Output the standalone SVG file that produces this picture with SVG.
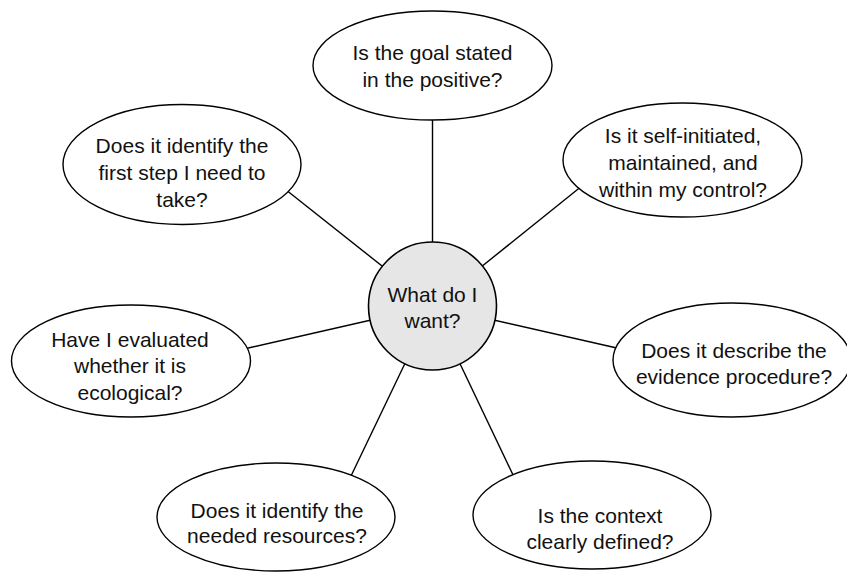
<svg xmlns="http://www.w3.org/2000/svg" width="847" height="572" viewBox="0 0 847 572">
<style>
.bg{fill:#ffffff}
.q{fill:#ffffff;stroke:#000000;stroke-width:1.4}
.hub{fill:#e6e6e6;stroke:#000000;stroke-width:1.6}
.c{stroke:#000000;stroke-width:1.4;fill:none}
text{font-family:"Liberation Sans",Arial,sans-serif;font-size:21px;fill:#111111;text-anchor:middle}
</style>
<rect class="bg" x="0" y="0" width="847" height="572"/>
<g id="connectors">
<line class="c" x1="432.5" y1="306" x2="432.5" y2="118"/>
<line class="c" x1="432.5" y1="306" x2="283" y2="187.5"/>
<line class="c" x1="432.5" y1="306" x2="580" y2="187.5"/>
<line class="c" x1="432.5" y1="306" x2="246" y2="348.5"/>
<line class="c" x1="432.5" y1="306" x2="619" y2="348.5"/>
<line class="c" x1="432.5" y1="306" x2="351" y2="476"/>
<line class="c" x1="432.5" y1="306" x2="514" y2="477"/>
</g>
<g id="top">
<ellipse class="q" cx="432.5" cy="65.5" rx="119.5" ry="54.5"/>
<text x="432.5" y="60">Is the goal stated</text>
<text x="432.5" y="87">in the positive?</text>
</g>
<g id="top-right">
<ellipse class="q" cx="682.5" cy="160" rx="119.5" ry="57"/>
<text x="683" y="143">Is it self-initiated,</text>
<text x="683" y="170">maintained, and</text>
<text x="683" y="197">within my control?</text>
</g>
<g id="top-left">
<ellipse class="q" cx="182" cy="164.5" rx="119" ry="60"/>
<text x="182" y="153">Does it identify the</text>
<text x="182" y="180">first step I need to</text>
<text x="182" y="207">take?</text>
</g>
<g id="left">
<ellipse class="q" cx="131" cy="361" rx="119.5" ry="56"/>
<text x="130" y="347">Have I evaluated</text>
<text x="130" y="373">whether it is</text>
<text x="130" y="400">ecological?</text>
</g>
<g id="right">
<ellipse class="q" cx="732" cy="360" rx="119" ry="57"/>
<text x="734" y="358">Does it describe the</text>
<text x="734" y="384">evidence procedure?</text>
</g>
<g id="bottom-left">
<ellipse class="q" cx="276" cy="517" rx="119" ry="54"/>
<text x="277" y="518">Does it identify the</text>
<text x="277" y="543">needed resources?</text>
</g>
<g id="bottom-right">
<ellipse class="q" cx="592" cy="515" rx="119" ry="54"/>
<text x="600" y="523">Is the context</text>
<text x="600" y="549">clearly defined?</text>
</g>
<g id="hub">
<circle class="hub" cx="432.5" cy="306" r="64"/>
<text x="432.5" y="302">What do I</text>
<text x="432.5" y="328">want?</text>
</g>
</svg>
